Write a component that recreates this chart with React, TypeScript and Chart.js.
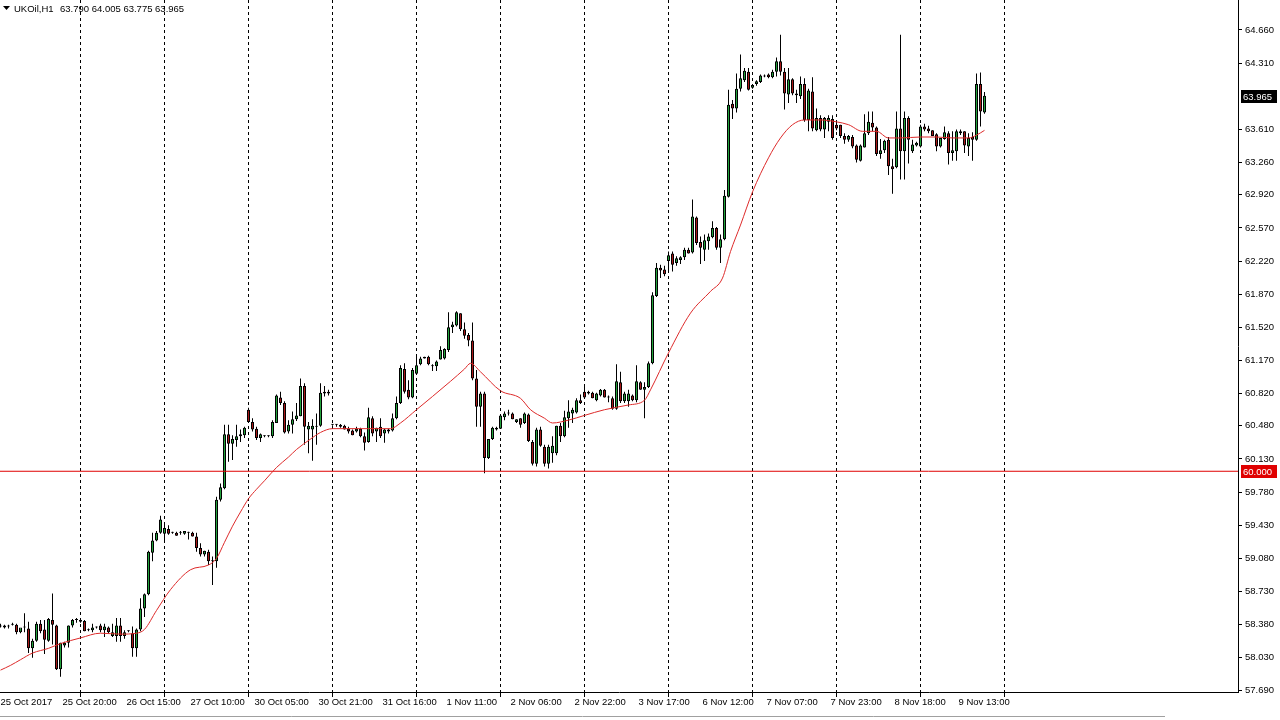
import React, { useEffect, useRef } from 'react';
import { Chart, registerables } from 'chart.js';

Chart.register(...registerables);

const symbolName = 'UKOil,H1';

const opens = [
  58.37, 58.35, 58.36, 58.38, 58.38, 58.30, 58.36, 58.34, 58.13, 58.21,
  58.39, 58.33, 58.21, 58.43, 58.37, 57.91, 58.16, 58.19, 58.37, 58.43,
  58.41, 58.42, 58.33, 58.32, 58.35, 58.37, 58.32, 58.35, 58.26, 58.26,
  58.37, 58.26, 58.31, 58.29, 58.13, 58.33, 58.55, 58.70, 59.14, 59.27,
  59.35, 59.34, 59.39, 59.35, 59.35, 59.35, 59.34, 59.35, 59.35, 59.31,
  59.19, 59.12, 59.15, 59.06, 59.05, 59.70, 59.82, 60.39, 60.29, 60.33,
  60.37, 60.38, 60.65, 60.52, 60.45, 60.35, 60.37, 60.37, 60.37, 60.51,
  60.78, 60.72, 60.42, 60.49, 60.55, 60.58, 60.90, 60.44, 60.44, 60.48,
  60.48, 60.82, 60.84, 60.49, 60.49, 60.49, 60.48, 60.45, 60.43, 60.42,
  60.45, 60.37, 60.31, 60.56, 60.42, 60.47, 60.40, 60.44, 60.43, 60.56,
  60.72, 61.08, 60.86, 60.78, 61.03, 61.13, 61.19, 61.21, 61.12, 61.11,
  61.18, 61.19, 61.28, 61.52, 61.54, 61.67, 61.50, 61.44, 61.38, 60.98,
  60.68, 60.82, 60.14, 60.34, 60.44, 60.45, 60.57, 60.61, 60.61, 60.52,
  60.56, 60.51, 60.60, 60.31, 60.08, 60.44, 60.26, 60.08, 60.19, 60.19,
  60.48, 60.37, 60.56, 60.61, 60.62, 60.75, 60.84, 60.82, 60.83, 60.75,
  60.80, 60.86, 60.78, 60.77, 60.66, 60.94, 60.74, 60.74, 60.80, 60.75,
  60.94, 60.86, 60.89, 61.14, 61.85, 62.15, 62.13, 62.22, 62.30, 62.20,
  62.23, 62.26, 62.34, 62.31, 62.68, 62.42, 62.34, 62.43, 62.47, 62.57,
  62.36, 62.45, 62.90, 63.88, 63.83, 64.04, 64.13, 64.22, 64.05, 64.09,
  64.11, 64.17, 64.19, 64.16, 64.22, 64.33, 64.22, 63.98, 64.14, 63.99,
  63.96, 64.09, 63.71, 64.01, 63.60, 63.73, 63.61, 63.69, 63.72, 63.66,
  63.66, 63.54, 63.50, 63.53, 63.44, 63.28, 63.42, 63.57, 63.68, 63.63,
  63.35, 63.39, 63.50, 63.22, 63.21, 63.62, 63.38, 63.73, 63.38, 63.44,
  63.43, 63.64, 63.62, 63.60, 63.56, 63.43, 63.51, 63.57, 63.36, 63.38,
  63.57, 63.59, 63.43, 63.53, 63.50, 64.09, 63.79,
];

const highs = [
  58.39, 58.38, 58.38, 58.40, 58.39, 58.31, 58.50, 58.41, 58.23, 58.41,
  58.43, 58.43, 58.45, 58.71, 58.38, 58.19, 58.20, 58.37, 58.44, 58.45,
  58.43, 58.43, 58.34, 58.39, 58.36, 58.39, 58.39, 58.36, 58.39, 58.45,
  58.45, 58.32, 58.32, 58.36, 58.34, 58.66, 58.71, 59.16, 59.35, 59.37,
  59.53, 59.44, 59.43, 59.36, 59.36, 59.37, 59.37, 59.36, 59.36, 59.35,
  59.24, 59.16, 59.17, 59.10, 59.73, 59.87, 60.49, 60.49, 60.38, 60.49,
  60.44, 60.47, 60.67, 60.56, 60.47, 60.40, 60.38, 60.38, 60.54, 60.81,
  60.84, 60.74, 60.54, 60.63, 60.72, 60.98, 60.93, 60.52, 60.55, 60.61,
  60.93, 60.90, 60.86, 60.50, 60.50, 60.50, 60.49, 60.47, 60.44, 60.47,
  60.46, 60.41, 60.67, 60.58, 60.46, 60.56, 60.45, 60.45, 60.61, 60.79,
  61.12, 61.14, 60.96, 61.09, 61.23, 61.21, 61.21, 61.22, 61.13, 61.17,
  61.32, 61.30, 61.68, 61.58, 61.69, 61.67, 61.57, 61.46, 61.57, 61.07,
  60.84, 60.84, 60.34, 60.47, 60.47, 60.60, 60.63, 60.65, 60.62, 60.55,
  60.56, 60.62, 60.61, 60.33, 60.46, 60.47, 60.28, 60.28, 60.37, 60.48,
  60.51, 60.64, 60.75, 60.67, 60.77, 60.81, 60.91, 60.85, 60.84, 60.83,
  60.87, 60.87, 60.80, 60.79, 61.13, 61.05, 60.84, 60.86, 60.81, 61.12,
  60.95, 60.94, 61.16, 61.89, 62.20, 62.18, 62.17, 62.32, 62.32, 62.27,
  62.27, 62.36, 62.36, 62.87, 62.69, 62.48, 62.50, 62.51, 62.64, 62.58,
  62.50, 62.97, 64.03, 63.92, 64.20, 64.40, 64.26, 64.26, 64.08, 64.13,
  64.19, 64.19, 64.20, 64.24, 64.37, 64.61, 64.26, 64.26, 64.15, 64.03,
  64.17, 64.15, 64.04, 64.16, 63.83, 63.76, 63.74, 63.76, 63.76, 63.69,
  63.66, 63.57, 63.55, 63.55, 63.45, 63.45, 63.77, 63.80, 63.80, 63.64,
  63.51, 63.50, 63.53, 63.30, 63.80, 64.61, 63.80, 63.75, 63.50, 63.48,
  63.66, 63.67, 63.65, 63.60, 63.57, 63.52, 63.64, 63.59, 63.59, 63.61,
  63.61, 63.59, 63.57, 63.58, 64.20, 64.21, 64.005,
];

const lows = [
  58.35, 58.34, 58.34, 58.37, 58.28, 58.29, 58.30, 58.08, 58.03, 58.20,
  58.29, 58.07, 58.20, 58.17, 57.90, 57.83, 58.14, 58.14, 58.35, 58.40,
  58.40, 58.31, 58.31, 58.30, 58.34, 58.30, 58.25, 58.29, 58.25, 58.20,
  58.20, 58.23, 58.30, 58.04, 58.04, 58.31, 58.46, 58.69, 59.05, 59.26,
  59.34, 59.26, 59.33, 59.34, 59.32, 59.33, 59.33, 59.28, 59.31, 59.15,
  59.10, 59.10, 59.01, 58.80, 58.98, 59.68, 59.81, 60.10, 60.12, 60.26,
  60.31, 60.35, 60.51, 60.42, 60.33, 60.31, 60.36, 60.36, 60.35, 60.51,
  60.70, 60.40, 60.40, 60.40, 60.53, 60.58, 60.28, 60.19, 60.11, 60.28,
  60.47, 60.79, 60.80, 60.48, 60.47, 60.46, 60.44, 60.40, 60.38, 60.41,
  60.36, 60.22, 60.30, 60.37, 60.31, 60.35, 60.30, 60.40, 60.42, 60.55,
  60.71, 60.82, 60.76, 60.77, 61.02, 61.12, 61.19, 61.12, 61.06, 61.06,
  61.18, 61.18, 61.26, 61.46, 61.53, 61.48, 61.40, 61.32, 60.96, 60.47,
  60.47, 59.98, 60.13, 60.33, 60.43, 60.45, 60.54, 60.59, 60.55, 60.51,
  60.46, 60.50, 60.31, 60.06, 60.05, 60.26, 60.05, 60.03, 60.09, 60.17,
  60.31, 60.36, 60.46, 60.51, 60.61, 60.71, 60.77, 60.81, 60.77, 60.74,
  60.79, 60.78, 60.73, 60.65, 60.65, 60.72, 60.72, 60.68, 60.74, 60.73,
  60.86, 60.56, 60.88, 61.13, 61.84, 62.04, 62.06, 62.12, 62.11, 62.17,
  62.19, 62.23, 62.30, 62.30, 62.39, 62.19, 62.22, 62.34, 62.46, 62.34,
  62.20, 62.44, 62.89, 63.72, 63.79, 64.01, 64.11, 64.02, 64.04, 64.07,
  64.10, 64.16, 64.15, 64.15, 64.17, 64.18, 63.82, 63.89, 63.97, 63.89,
  63.93, 63.69, 63.59, 63.59, 63.59, 63.59, 63.52, 63.59, 63.50, 63.60,
  63.52, 63.46, 63.48, 63.41, 63.26, 63.27, 63.42, 63.55, 63.59, 63.33,
  63.30, 63.36, 63.13, 62.93, 63.20, 63.08, 63.08, 63.25, 63.36, 63.43,
  63.42, 63.59, 63.57, 63.54, 63.38, 63.42, 63.50, 63.24, 63.28, 63.28,
  63.55, 63.36, 63.33, 63.28, 63.49, 63.64, 63.775,
];

const closes = [
  58.36, 58.37, 58.37, 58.38, 58.30, 58.35, 58.35, 58.13, 58.21, 58.39,
  58.31, 58.22, 58.44, 58.38, 57.91, 58.19, 58.19, 58.37, 58.43, 58.44,
  58.43, 58.31, 58.32, 58.35, 58.35, 58.32, 58.36, 58.30, 58.30, 58.37,
  58.26, 58.30, 58.31, 58.13, 58.33, 58.55, 58.70, 59.15, 59.27, 59.35,
  59.49, 59.40, 59.34, 59.35, 59.32, 59.35, 59.37, 59.35, 59.31, 59.19,
  59.12, 59.16, 59.05, 59.05, 59.70, 59.83, 60.39, 60.29, 60.34, 60.37,
  60.39, 60.46, 60.52, 60.44, 60.35, 60.39, 60.37, 60.37, 60.52, 60.80,
  60.72, 60.41, 60.49, 60.55, 60.59, 60.90, 60.47, 60.48, 60.48, 60.47,
  60.83, 60.84, 60.82, 60.49, 60.49, 60.47, 60.44, 60.42, 60.38, 60.45,
  60.37, 60.30, 60.57, 60.40, 60.46, 60.37, 60.44, 60.42, 60.56, 60.72,
  61.09, 60.84, 60.78, 61.07, 61.12, 61.19, 61.21, 61.13, 61.11, 61.16,
  61.28, 61.29, 61.52, 61.55, 61.68, 61.50, 61.43, 61.38, 60.98, 60.68,
  60.82, 60.14, 60.34, 60.46, 60.46, 60.59, 60.61, 60.61, 60.55, 60.55,
  60.49, 60.61, 60.32, 60.08, 60.44, 60.27, 60.08, 60.26, 60.27, 60.48,
  60.37, 60.57, 60.63, 60.65, 60.75, 60.72, 60.78, 60.84, 60.77, 60.82,
  60.86, 60.78, 60.78, 60.66, 60.95, 60.74, 60.82, 60.82, 60.75, 60.95,
  60.86, 60.89, 61.14, 61.86, 62.15, 62.12, 62.08, 62.28, 62.18, 62.25,
  62.26, 62.34, 62.30, 62.69, 62.41, 62.36, 62.44, 62.48, 62.57, 62.36,
  62.45, 62.91, 63.87, 63.83, 64.04, 64.15, 64.23, 64.03, 64.08, 64.12,
  64.18, 64.18, 64.16, 64.22, 64.33, 64.22, 63.99, 64.14, 63.99, 63.97,
  64.09, 63.71, 64.02, 63.62, 63.73, 63.61, 63.73, 63.73, 63.52, 63.62,
  63.54, 63.50, 63.54, 63.43, 63.29, 63.44, 63.57, 63.69, 63.63, 63.35,
  63.39, 63.49, 63.22, 63.19, 63.62, 63.38, 63.73, 63.50, 63.45, 63.47,
  63.64, 63.61, 63.59, 63.54, 63.43, 63.52, 63.58, 63.36, 63.39, 63.59,
  63.59, 63.44, 63.52, 63.50, 64.09, 63.80, 63.965,
];

// moving average, read at sample bars
const maBars = [
  0, 2.5, 5, 8, 12, 15, 20, 25, 30, 34, 36, 39, 42.5, 47.5, 52, 54, 56, 58, 60, 62,
  64, 66, 69, 72, 74, 77.5, 80, 83, 92, 97.5, 100, 104, 108, 112.5, 116, 117.5, 120,
  125, 130, 132.5, 136, 138, 142, 146, 151, 157, 161, 162.5, 167, 172.5, 177.5, 180.5,
  182.5, 185, 188, 192, 195, 198, 201, 205, 209, 212, 215.5, 219, 222, 225, 230, 234,
  238, 242, 244, 246,
];
const maValues = [
  57.90, 57.95, 58.01, 58.08, 58.13, 58.18, 58.24, 58.29, 58.28, 58.29, 58.33, 58.53,
  58.75, 58.96, 59.01, 59.08, 59.25, 59.42, 59.57, 59.71, 59.81, 59.90, 60.04, 60.15,
  60.23, 60.34, 60.41, 60.45, 60.45, 60.45, 60.51, 60.65, 60.79, 60.95, 61.08, 61.14,
  61.05, 60.85, 60.77, 60.65, 60.56, 60.51, 60.54, 60.59, 60.65, 60.70, 60.75, 60.86,
  61.25, 61.67, 61.90, 62.04, 62.32, 62.60, 62.95, 63.31, 63.52, 63.66, 63.71, 63.71,
  63.69, 63.66, 63.59, 63.59, 63.52, 63.52, 63.53, 63.53, 63.52, 63.52, 63.55, 63.60,
];

const levelPrice = 60.0;

const xTickLabels = [
  '25 Oct 2017', '25 Oct 20:00', '26 Oct 15:00', '27 Oct 10:00', '30 Oct 05:00',
  '30 Oct 21:00', '31 Oct 16:00', '1 Nov 11:00', '2 Nov 06:00', '2 Nov 22:00',
  '3 Nov 17:00', '6 Nov 12:00', '7 Nov 07:00', '7 Nov 23:00', '8 Nov 18:00', '9 Nov 13:00',
];
const xTickBars = [0, 16, 32, 48, 64, 80, 96, 112, 128, 144, 160, 176, 192, 208, 224, 240];
const dayStartBars = [20, 41, 62, 83, 104, 125, 146, 167, 188, 209, 230, 251];
const yTickValues = [
  64.66, 64.31, 63.61, 63.26, 62.92, 62.57, 62.22, 61.87, 61.52, 61.17, 60.82,
  60.48, 60.13, 59.78, 59.43, 59.08, 58.73, 58.38, 58.03, 57.69,
];

const X_MIN = -0.125;
const X_MAX = 309.375;
const Y_MIN = 57.6689;
const Y_MAX = 64.9768;

const FONT = '"Liberation Sans", Arial, sans-serif';
const FONT_SIZE = 9.5;
const UP = '#22a33c';
const DOWN = '#a81818';

const zeroPad = (s: any) => {
  s.paddingLeft = 0;
  s.paddingRight = 0;
  s.paddingTop = 0;
  s.paddingBottom = 0;
};

const overlayPlugin = {
  id: 'mtOverlay',
  afterDraw(chart: any) {
    const ctx = chart.ctx;
    const ys = chart.scales.y;
    const area = chart.chartArea;
    ctx.save();
    ctx.font = FONT_SIZE + 'px ' + FONT;
    ctx.textBaseline = 'middle';
    ctx.textAlign = 'left';
    const box = (value: number, bg: string) => {
      const py = Math.round(ys.getPixelForValue(value));
      ctx.fillStyle = bg;
      ctx.fillRect(area.right + 3, py - 6, 36, 13);
      ctx.fillStyle = '#ffffff';
      ctx.fillText(value.toFixed(3), area.right + 5, py + 1);
    };
    const last = closes.length - 1;
    box(closes[last], '#000000');
    box(levelPrice, '#e00000');

    // header
    ctx.fillStyle = '#000000';
    ctx.beginPath();
    ctx.moveTo(3, 6);
    ctx.lineTo(10, 6);
    ctx.lineTo(6.5, 10);
    ctx.closePath();
    ctx.fill();
    ctx.fillText(symbolName, 14, 9);
    const vals = [opens[last], highs[last], lows[last], closes[last]].map((v) => v.toFixed(3)).join(' ');
    ctx.fillText(vals, 60, 9);

    // terminal tab strip at the bottom edge
    ctx.strokeStyle = '#a0a0a0';
    ctx.lineWidth = 1;
    ctx.beginPath();
    ctx.moveTo(0, 716.5);
    ctx.lineTo(1165, 716.5);
    ctx.stroke();
    ctx.restore();
  },
};

export default function App() {
  const ref = useRef<HTMLCanvasElement | null>(null);

  useEffect(() => {
    if (!ref.current) return;
    const idx = opens.map((_, i) => i);
    const wickData = idx.map((i) => ({ x: i, y: [lows[i], highs[i]] }));
    const bodyData = idx.map((i) => ({ x: i, y: [opens[i], closes[i]] }));
    const bodyColors = idx.map((i) => (closes[i] >= opens[i] ? UP : DOWN));
    const maData = maBars.map((b, i) => ({ x: b, y: maValues[i] }));
    const levelData = [
      { x: X_MIN, y: levelPrice },
      { x: X_MAX, y: levelPrice },
    ];

    const chart = new Chart(ref.current, {
      type: 'bar',
      data: {
        datasets: [
          {
            type: 'bar',
            data: wickData as any,
            backgroundColor: '#000000',
            borderWidth: 0,
            barThickness: 1,
            grouped: false,
            inflateAmount: 0,
            order: 3,
          } as any,
          {
            type: 'bar',
            data: bodyData as any,
            backgroundColor: bodyColors,
            borderColor: '#000000',
            borderWidth: 1,
            borderSkipped: false,
            barThickness: 3,
            grouped: false,
            inflateAmount: 0,
            minBarLength: 1,
            order: 2,
          } as any,
          {
            type: 'line',
            data: levelData as any,
            borderColor: '#e00000',
            borderWidth: 1,
            pointRadius: 0,
            order: 1,
          } as any,
          {
            type: 'line',
            data: maData as any,
            borderColor: '#dd2a2a',
            borderWidth: 1,
            pointRadius: 0,
            cubicInterpolationMode: 'monotone',
            order: 0,
          } as any,
        ],
      },
      options: {
        responsive: false,
        animation: false,
        events: [],
        devicePixelRatio: 1,
        layout: { padding: 0 },
        plugins: {
          legend: { display: false },
          tooltip: { enabled: false },
          title: { display: false },
        },
        scales: {
          xg: {
            type: 'linear',
            position: 'bottom',
            min: X_MIN,
            max: X_MAX,
            offset: false,
            weight: 0,
            grid: {
              display: true,
              color: '#000000',
              lineWidth: 1,
              drawOnChartArea: true,
              drawTicks: true,
              tickLength: 5,
              tickColor: '#000000',
              offset: false,
            },
            border: { display: false, dash: [3, 3] },
            ticks: { display: false },
            afterBuildTicks: (s: any) => {
              s.ticks = dayStartBars.map((v) => ({ value: v }));
            },
            afterFit: (s: any) => {
              s.height = 0;
              zeroPad(s);
            },
          } as any,
          x: {
            type: 'linear',
            position: 'bottom',
            min: X_MIN,
            max: X_MAX,
            offset: false,
            weight: 1,
            grid: { display: false, drawTicks: false },
            border: { display: true, color: '#000000', width: 1 },
            ticks: {
              autoSkip: false,
              maxRotation: 0,
              minRotation: 0,
              align: 'start',
              padding: 5,
              color: '#000000',
              font: { family: FONT, size: FONT_SIZE },
              callback: (_v: any, i: number) => xTickLabels[i],
            },
            afterBuildTicks: (s: any) => {
              s.ticks = xTickBars.map((v) => ({ value: v > 0 ? v - 0.5 : v }));
            },
            afterFit: (s: any) => {
              s.height = 28;
              zeroPad(s);
            },
          } as any,
          y: {
            type: 'linear',
            position: 'right',
            min: Y_MIN,
            max: Y_MAX,
            grid: {
              display: true,
              drawOnChartArea: false,
              drawTicks: true,
              tickLength: 4,
              tickColor: '#000000',
              color: '#000000',
            },
            border: { display: true, color: '#000000', width: 1 },
            ticks: {
              autoSkip: false,
              padding: 3,
              color: '#000000',
              font: { family: FONT, size: FONT_SIZE },
              callback: (v: any) => Number(v).toFixed(3),
            },
            afterBuildTicks: (s: any) => {
              s.ticks = yTickValues.map((v) => ({ value: v }));
            },
            afterFit: (s: any) => {
              s.width = 42;
              zeroPad(s);
            },
          } as any,
        },
      },
      plugins: [overlayPlugin],
    });
    return () => chart.destroy();
  }, []);

  return (
    <div style={{ position: 'fixed', left: 0, top: 0, width: 1280, height: 720, background: '#ffffff' }}>
      <canvas ref={ref} width={1280} height={720} style={{ display: 'block', width: 1280, height: 720 }} />
    </div>
  );
}
